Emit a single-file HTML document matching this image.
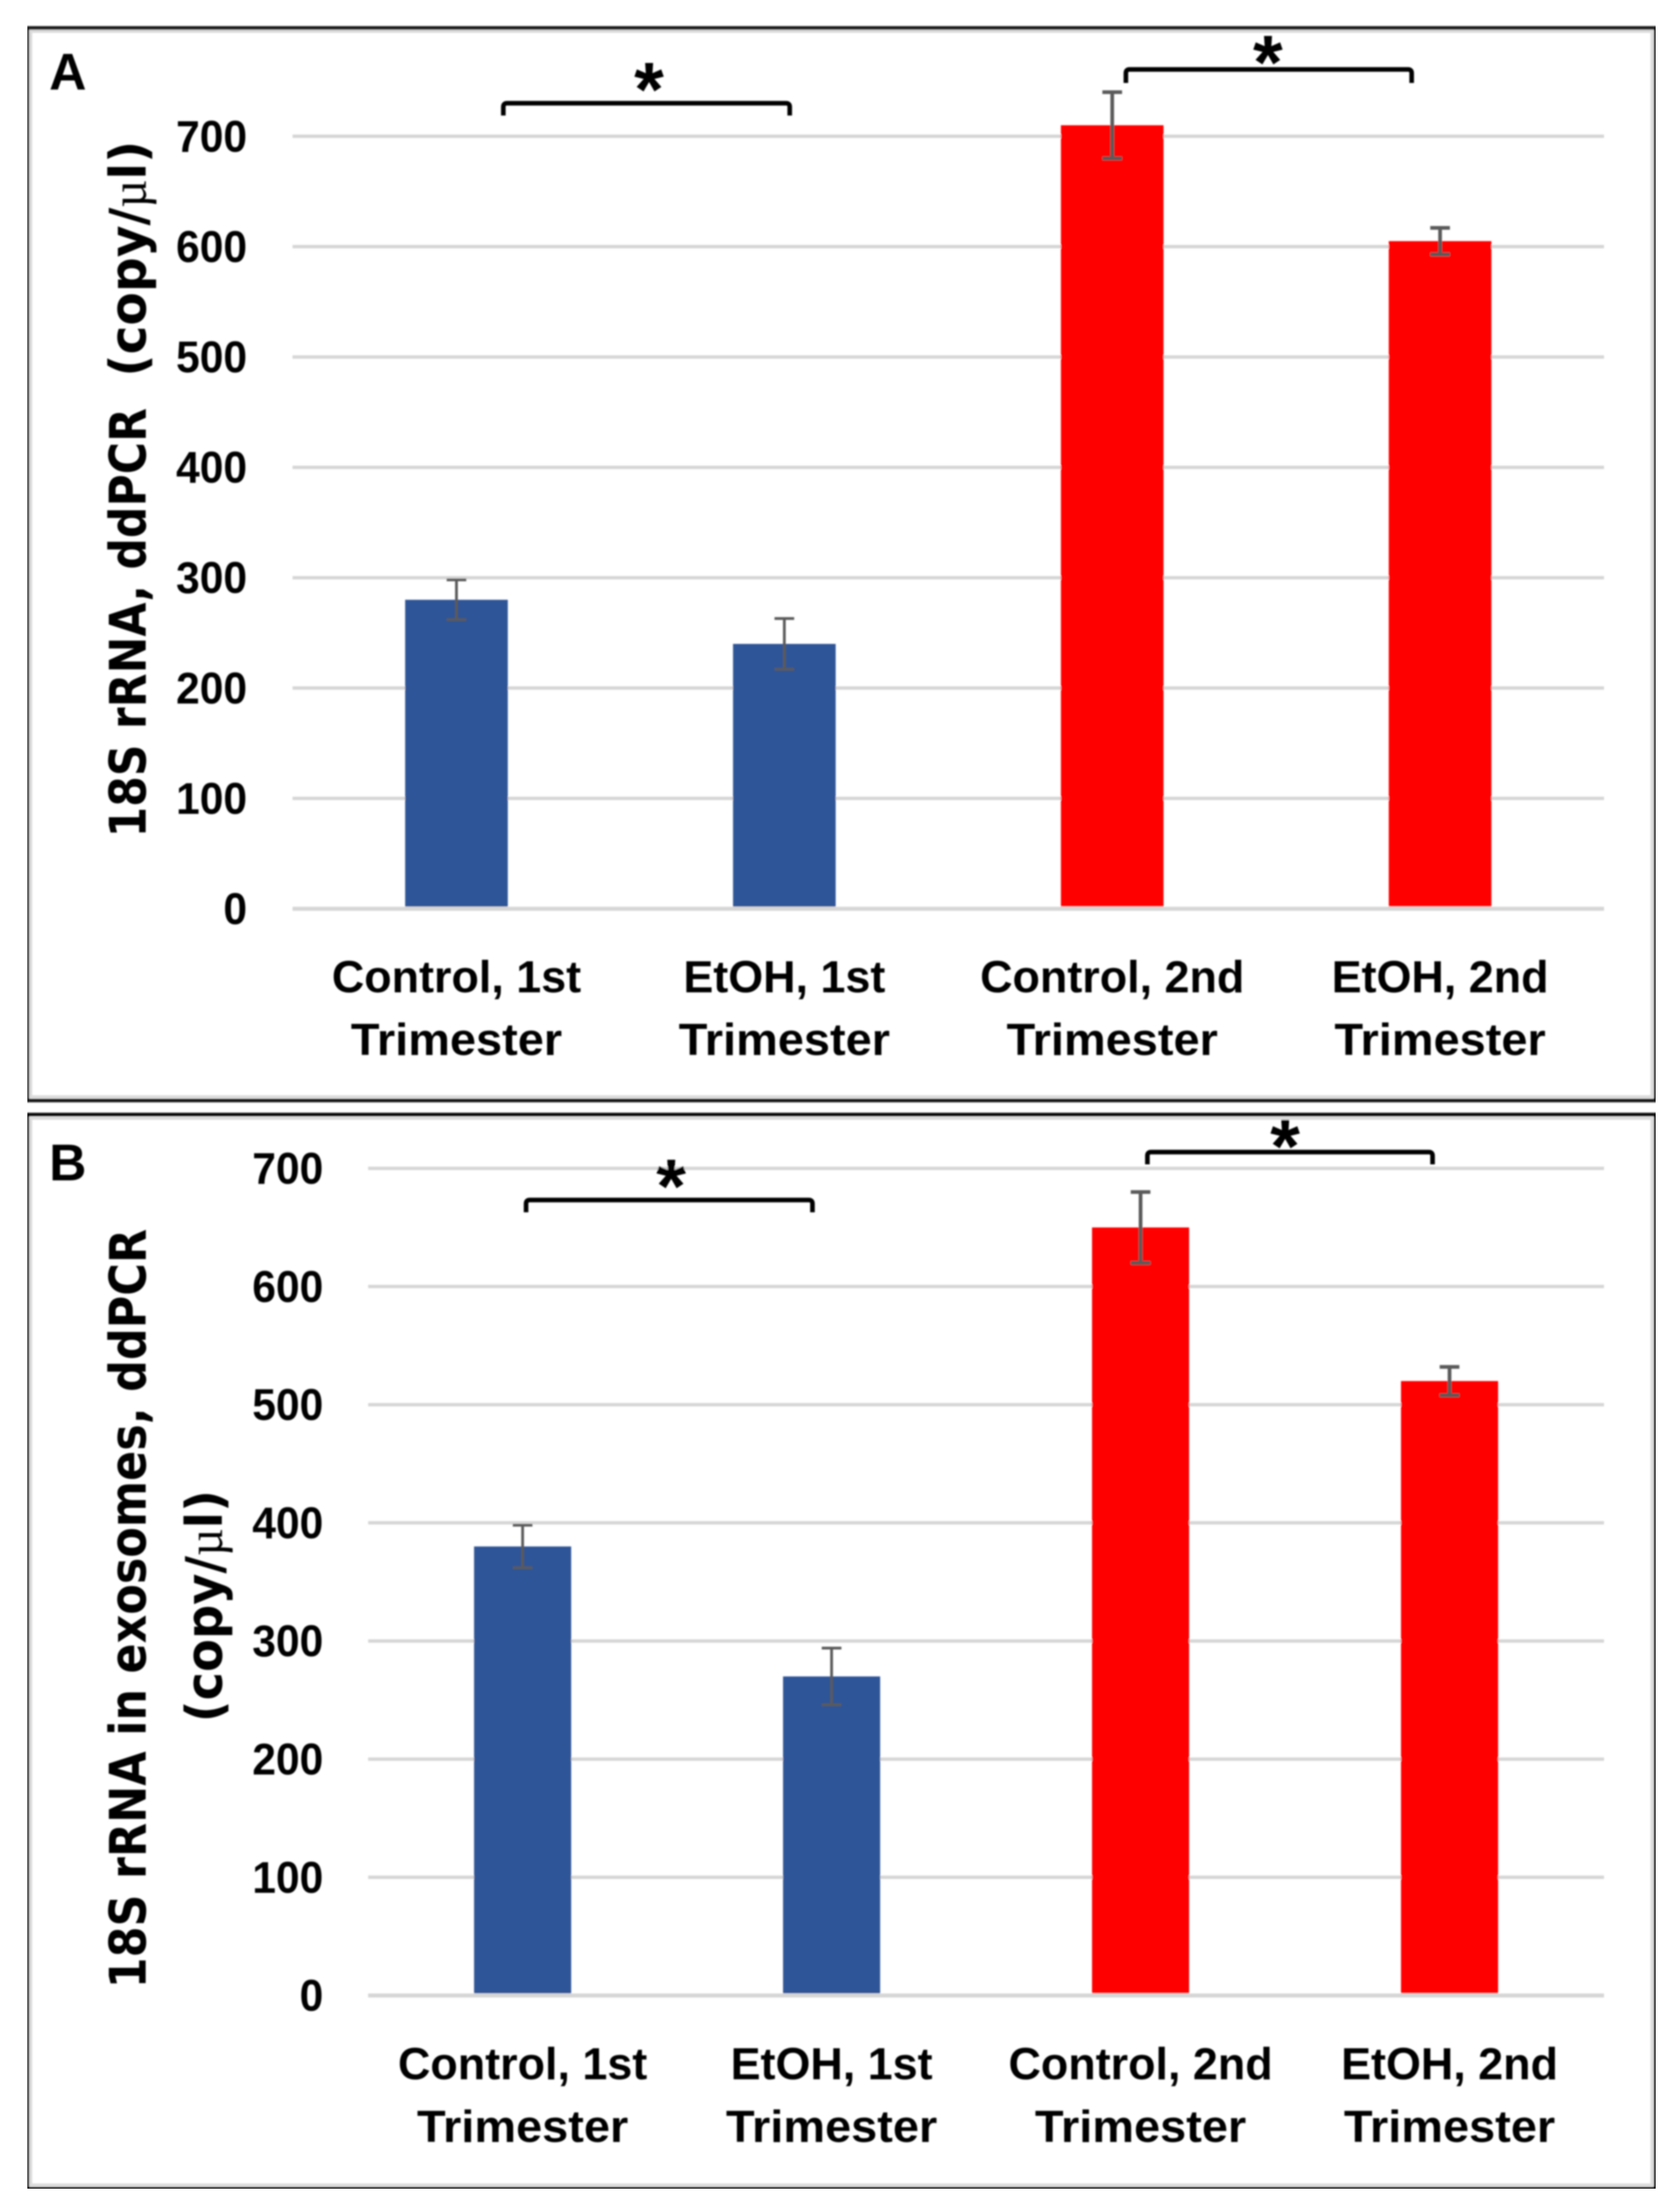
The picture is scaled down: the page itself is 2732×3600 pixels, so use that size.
<!DOCTYPE html>
<html lang="en">
<head>
<meta charset="utf-8">
<title>18S rRNA ddPCR bar charts</title>
<style>
html,body{margin:0;padding:0;background:#fff;}
svg{display:block;}
text{font-family:"Liberation Sans",sans-serif;font-weight:700;fill:#000;white-space:pre;}
.title{font-family:"DejaVu Sans",sans-serif;font-weight:700;font-size:82px;}
.mu{font-family:"Liberation Serif",serif;font-weight:400;}
.br{fill:none;stroke:#000;stroke-width:7.5;}
.star{font-size:124px;text-anchor:middle;}
.panel{font-size:84px;}
</style>
</head>
<body>
<svg id="figure" xmlns="http://www.w3.org/2000/svg" width="2732" height="3600" viewBox="0 0 2732 3600">
<defs><filter id="soft" x="0" y="0" width="100%" height="100%"><feGaussianBlur stdDeviation="1.3"/></filter></defs>
<rect width="2732" height="3600" fill="#fff"/>
<g filter="url(#soft)">
  <rect x="50" y="51" width="2638" height="1734" fill="none" stroke="#dcdcdc" stroke-width="5"/>
  <rect x="44.5" y="45.5" width="2649.5" height="1745.5" fill="none" stroke="#1c1c1c" stroke-width="6"/>
  <rect x="50" y="1820" width="2638" height="1736" fill="none" stroke="#dcdcdc" stroke-width="5"/>
  <rect x="44.5" y="1814" width="2649.5" height="1748" fill="none" stroke="#111" stroke-width="6"/>

  <g id="chartA"></g>
  <g id="chartB"></g>

  <text class="panel" x="80" y="146">A</text>
  <text class="panel" x="80" y="1921">B</text>

  <text class="title" transform="translate(237,1363) rotate(-90)" textLength="699" lengthAdjust="spacingAndGlyphs">18S rRNA, ddPCR</text>
  <text class="title" transform="translate(237,613) rotate(-90)" textLength="384" lengthAdjust="spacingAndGlyphs">(copy/<tspan class="mu">µ</tspan>l)</text>
  <text class="title" transform="translate(237,3236) rotate(-90)" textLength="1236" lengthAdjust="spacingAndGlyphs">18S rRNA in exosomes, ddPCR</text>
  <text class="title" transform="translate(361,2803) rotate(-90)" textLength="378" lengthAdjust="spacingAndGlyphs">(copy/<tspan class="mu">µ</tspan>l)</text>

  <path class="br" d="M819 188V174Q819 168 825 168H1279Q1285 168 1285 174V188"/>
  <path class="br" d="M1832 135V119Q1832 113 1838 113H2291Q2297 113 2297 119V135"/>
  <path class="br" d="M856 1973V1959Q856 1953 862 1953H1316Q1322 1953 1322 1959V1973"/>
  <path class="br" d="M1867 1895V1881Q1867 1875 1873 1875H2325Q2331 1875 2331 1881V1895"/>

  <text class="star" x="1056" y="188">*</text>
  <text class="star" x="2063" y="144">*</text>
  <text class="star" x="1092" y="1973">*</text>
  <text class="star" x="2091" y="1908">*</text>
</g>
</svg>
<script>
const categoryLine1 = ["Control, 1st", "EtOH, 1st", "Control, 2nd", "EtOH, 2nd"];
const categoryLine2 = ["Trimester", "Trimester", "Trimester", "Trimester"];
const categoryKeys = ["control-1st", "etoh-1st", "control-2nd", "etoh-2nd"];
const tickValues = [0, 100, 200, 300, 400, 500, 600, 700];
const panelAValues = [280, 240, 710, 605];
const panelAErrors = [18, 23, 30, 12];
const panelBValues = [380, 270, 650, 520];
const panelBErrors = [18, 24, 30, 12];
const barColors = ["#2f5597", "#2f5597", "#ff0000", "#ff0000"];

const SVGNS = "http://www.w3.org/2000/svg";

function el(parent, tag, attrs, text) {
  const node = document.createElementNS(SVGNS, tag);
  for (const key in attrs) node.setAttribute(key, attrs[key]);
  if (text !== undefined) node.textContent = text;
  parent.appendChild(node);
  return node;
}

function drawChart(cfg) {
  const root = document.getElementById(cfg.id);
  const xBand = (cfg.xEnd - cfg.xStart) / categoryLine1.length;
  const xScale = function (i) { return cfg.xStart + xBand * (i + 0.5); };
  const yScale = function (v) { return cfg.y0 - v * cfg.pxPerUnit; };

  tickValues.forEach(function (tick) {
    const grid = el(root, "line", {
      x1: cfg.xStart, x2: cfg.xEnd, y1: yScale(tick), y2: yScale(tick),
      stroke: "#d6d6d6", "stroke-width": tick === 0 ? 6.5 : 5.5
    });
    
    

    const label = String(tick);
    const tickText = el(root, "text", {
      x: cfg.tickRight, y: yScale(tick) + 25, "text-anchor": "end", "font-size": 72,
      textLength: label.length * 38.5, lengthAdjust: "spacingAndGlyphs"
    }, label);
    
    
  });

  cfg.values.forEach(function (value, i) {
    const cx = xScale(i);
    const bar = el(root, "rect", {
      x: cx - cfg.barWidth / 2, y: yScale(value), width: cfg.barWidth,
      height: yScale(0) - 3.5 - yScale(value), fill: barColors[i]
    });
    
    

    const hi = yScale(value + cfg.errors[i]);
    const lo = yScale(value - cfg.errors[i]);
    const errorWidth = i < 2 ? 4.5 : 6;
    const d = "M" + (cx - 16) + " " + hi + "H" + (cx + 16) +
              "M" + cx + " " + hi + "V" + lo +
              "M" + (cx - 16) + " " + lo + "H" + (cx + 16);
    const err = el(root, "path", { d: d, fill: "none", stroke: "#5a5a5a", "stroke-width": errorWidth });
    
    

    const first = el(root, "text", {
      x: cx, y: cfg.labelY1, "text-anchor": "middle", "font-size": 73
    }, categoryLine1[i]);
    
    

    const second = el(root, "text", {
      x: cx, y: cfg.labelY2, "text-anchor": "middle", "font-size": 73,
      textLength: categoryLine2[i].length * 38.2, lengthAdjust: "spacingAndGlyphs"
    }, categoryLine2[i]);
    
    
  });
}

drawChart({ id: "chartA", prefix: "panel-a", values: panelAValues, errors: panelAErrors,
  xStart: 476, xEnd: 2610, y0: 1479, pxPerUnit: 1.796, barWidth: 167,
  tickRight: 402, labelY1: 1615, labelY2: 1717 });
drawChart({ id: "chartB", prefix: "panel-b", values: panelBValues, errors: panelBErrors,
  xStart: 599, xEnd: 2610, y0: 3247.6, pxPerUnit: 1.923, barWidth: 158,
  tickRight: 526, labelY1: 3384, labelY2: 3486 });
</script>
</body>
</html>
